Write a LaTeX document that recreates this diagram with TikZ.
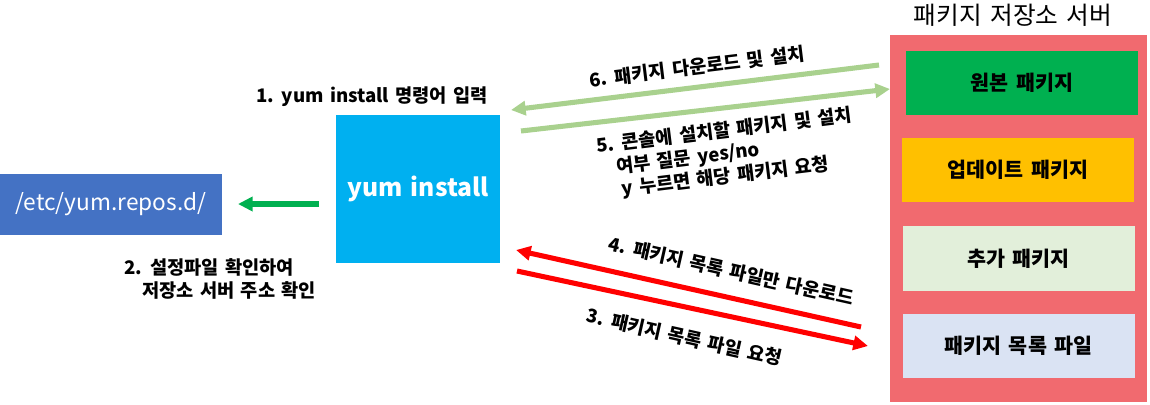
\documentclass[tikz,border=0pt]{standalone}
\usepackage{fontspec}
\setmainfont[WordSpace=1.5]{Noto Sans CJK KR}
\usetikzlibrary{arrows.meta,shapes}
\definecolor{srvred}{RGB}{241,106,111}
\definecolor{origgreen}{RGB}{0,176,80}
\definecolor{updorange}{RGB}{255,192,0}
\definecolor{addgreen}{RGB}{226,239,218}
\definecolor{listblue}{RGB}{218,227,243}
\definecolor{yumblue}{RGB}{0,176,240}
\definecolor{repoblue}{RGB}{68,114,196}
\definecolor{lightarrow}{RGB}{169,209,142}
\tikzset{x=0.75pt, y=-0.75pt,
    box/.style={inner sep=0pt, outer sep=0pt, align=center},
    pkgbox/.style={box, minimum width=232*0.75pt, minimum height=64*0.75pt,
        font=\fontsize{15.5}{18}\selectfont\bfseries},
    lbl/.style={inner sep=0pt, align=center, font=\fontsize{14}{17.3}\selectfont\bfseries},
    fat/.style={line width=3.8pt, -{Triangle[length=11pt, width=10.5pt]}},}

\begin{document}
\begin{tikzpicture}
  \useasboundingbox (0,0) rectangle (1150,404);
  % package server
  \node[box, fill=srvred, minimum width=257*0.75pt, minimum height=367*0.75pt] (srv) at (1018.5,218.5) {};
  \node[font=\fontsize{18.5}{20}\selectfont] (srvt) at (1013,15) {패키지 저장소 서버};
  \node[pkgbox, fill=origgreen] (b1) at (1022,83) {원본 패키지};
  \node[pkgbox, fill=updorange] (b2) at (1018,170) {업데이트 패키지};
  \node[pkgbox, fill=addgreen, minimum height=65*0.75pt] (b3) at (1018.5,258.5) {추가 패키지};
  \node[pkgbox, fill=listblue] (b4) at (1018.5,346) {패키지 목록 파일};
  % client side
  \node[box, fill=yumblue, text=white, minimum width=164*0.75pt, minimum height=148*0.75pt,
    font=\fontsize{18.5}{20}\selectfont\bfseries] (yum) at (418,189) {yum install};
  \node[box, fill=repoblue, text=white, minimum width=222*0.75pt, minimum height=61*0.75pt,
    font=\fontsize{17}{20}\selectfont] (repo) at (111,204) {/etc/yum.repos.d/};
  % free arrow ends
  \coordinate (g0) at (319,204);
  \coordinate (g1) at (238,204);
  \coordinate (s6) at (879,65);
  \coordinate (e6) at (511,110);
  \coordinate (s5) at (521,131);
  \coordinate (e5) at (890,89);
  \coordinate (s4) at (861,327);
  \coordinate (e4) at (516,250);
  \coordinate (s3) at (517,271);
  \coordinate (e3) at (868,346);
  \draw[fat, origgreen] (g0)--(g1);
  \draw[fat, lightarrow] (s6)--(e6);
  \draw[fat, lightarrow] (s5)--(e5);
  \draw[fat, red] (s4)--(e4);
  \draw[fat, red] (s3)--(e3);
  % step labels
  \node[lbl] (l1) at (372,97) {1. yum install 명령어 입력};
  \node[lbl, anchor=west, align=left] (l2) at (124,279) {2. 설정파일 확인하여\\\hspace{13.5pt}저장소 서버 주소 확인};
  \node[lbl, rotate=7] (l6) at (697,67) {6. 패키지 다운로드 및 설치};
  \node[lbl, rotate=7, align=left] (l5) at (727,154) {5. 콘솔에 설치할 패키지 및 설치\\\hspace{13pt}여부 질문 yes/no\\\hspace{15pt}y 누르면 해당 패키지 요청};
  \node[lbl, rotate=-12.7] (l4) at (731,271) {4. 패키지 목록 파일만 다운로드};
  \node[lbl, rotate=-12.7] (l3) at (684,337) {3. 패키지 목록 파일 요청};
\end{tikzpicture}
\end{document}
